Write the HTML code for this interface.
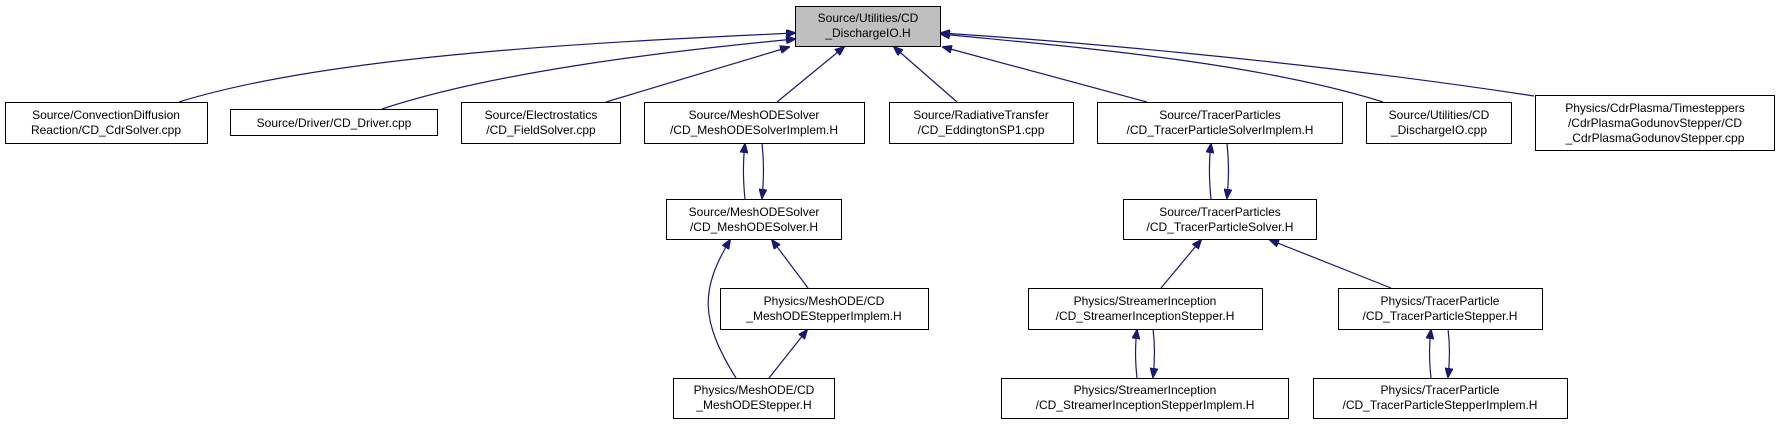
<!DOCTYPE html>
<html><head><meta charset="utf-8"><style>
html,body{margin:0;padding:0;background:#fff;}
svg{display:block;}
text{font-family:"Liberation Sans",sans-serif;font-size:12px;fill:#000;}
</style></head><body>
<svg width="1779" height="424" viewBox="0 0 1779 424" xmlns="http://www.w3.org/2000/svg">
<defs>
<marker id="a" markerWidth="10" markerHeight="8" refX="9" refY="4" orient="auto" markerUnits="userSpaceOnUse">
<path d="M0,0 L10,4 L0,8 Z" fill="#191970" stroke="#191970"/>
</marker>
</defs>
<g fill="none" stroke="#191970" stroke-width="1.2" marker-end="url(#a)">
<path d="M179,102 C330,55 600,42 795,33"/>
<path d="M382,109 C500,70 680,50 795,39"/>
<path d="M606,102 L789,47"/>
<path d="M777,102 L844,47"/>
<path d="M957,102 L894,47"/>
<path d="M1147,102 L943,47"/>
<path d="M1383,102 C1250,60 1050,45 941,34"/>
<path d="M1534,96 C1300,60 1050,40 941,33"/>
<path d="M745,199 C743,180 743,160 745,144"/>
<path d="M762,143 C764,162 764,180 762,198"/>
<path d="M736,378 C700,320 700,290 730,240"/>
<path d="M808,288 L772,240"/>
<path d="M769,378 L807,330"/>
<path d="M1211,199 C1209,180 1209,160 1211,144"/>
<path d="M1227,143 C1229,162 1229,180 1227,198"/>
<path d="M1161,288 L1201,240"/>
<path d="M1391,288 L1270,240"/>
<path d="M1137,378 C1135,360 1135,345 1137,330"/>
<path d="M1153,329 C1155,345 1155,360 1153,377"/>
<path d="M1431,378 C1429,360 1429,345 1431,330"/>
<path d="M1448,329 C1450,345 1450,360 1448,377"/>
</g>
<g stroke="#000" stroke-width="1" fill="#fff">
<rect x="795.5" y="6.5" width="145" height="40" fill="#bfbfbf"/>
<rect x="5.5" y="102.5" width="202" height="41"/>
<rect x="230.5" y="109.5" width="207" height="26"/>
<rect x="461.5" y="102.5" width="159" height="41"/>
<rect x="644.5" y="102.5" width="220" height="41"/>
<rect x="889.5" y="102.5" width="184" height="41"/>
<rect x="1097.5" y="102.5" width="245" height="41"/>
<rect x="1366.5" y="102.5" width="145" height="41"/>
<rect x="1535.5" y="95.5" width="239" height="55"/>
<rect x="666.5" y="199.5" width="175" height="40"/>
<rect x="1123.5" y="199.5" width="193" height="40"/>
<rect x="720.5" y="288.5" width="208" height="41"/>
<rect x="1028.5" y="288.5" width="234" height="41"/>
<rect x="1338.5" y="288.5" width="204" height="41"/>
<rect x="673.5" y="378.5" width="161" height="40"/>
<rect x="1001.5" y="378.5" width="287" height="40"/>
<rect x="1313.5" y="378.5" width="254" height="40"/>
</g>
<g text-anchor="middle">
<text x="868" y="22">Source/Utilities/CD</text><text x="868" y="37">_DischargeIO.H</text>
<text x="106" y="119">Source/ConvectionDiffusion</text><text x="106" y="134">Reaction/CD_CdrSolver.cpp</text>
<text x="334" y="127">Source/Driver/CD_Driver.cpp</text>
<text x="541" y="119">Source/Electrostatics</text><text x="541" y="134">/CD_FieldSolver.cpp</text>
<text x="754" y="119">Source/MeshODESolver</text><text x="754" y="134">/CD_MeshODESolverImplem.H</text>
<text x="981" y="119">Source/RadiativeTransfer</text><text x="981" y="134">/CD_EddingtonSP1.cpp</text>
<text x="1220" y="119">Source/TracerParticles</text><text x="1220" y="134">/CD_TracerParticleSolverImplem.H</text>
<text x="1439" y="119">Source/Utilities/CD</text><text x="1439" y="134">_DischargeIO.cpp</text>
<text x="1655" y="112">Physics/CdrPlasma/Timesteppers</text><text x="1655" y="127">/CdrPlasmaGodunovStepper/CD</text><text x="1655" y="142">_CdrPlasmaGodunovStepper.cpp</text>
<text x="754" y="216">Source/MeshODESolver</text><text x="754" y="231">/CD_MeshODESolver.H</text>
<text x="1220" y="216">Source/TracerParticles</text><text x="1220" y="231">/CD_TracerParticleSolver.H</text>
<text x="824" y="305">Physics/MeshODE/CD</text><text x="824" y="320">_MeshODEStepperImplem.H</text>
<text x="1145" y="305">Physics/StreamerInception</text><text x="1145" y="320">/CD_StreamerInceptionStepper.H</text>
<text x="1440" y="305">Physics/TracerParticle</text><text x="1440" y="320">/CD_TracerParticleStepper.H</text>
<text x="754" y="394">Physics/MeshODE/CD</text><text x="754" y="409">_MeshODEStepper.H</text>
<text x="1145" y="394">Physics/StreamerInception</text><text x="1145" y="409">/CD_StreamerInceptionStepperImplem.H</text>
<text x="1440" y="394">Physics/TracerParticle</text><text x="1440" y="409">/CD_TracerParticleStepperImplem.H</text>
</g>
</svg>
</body></html>
